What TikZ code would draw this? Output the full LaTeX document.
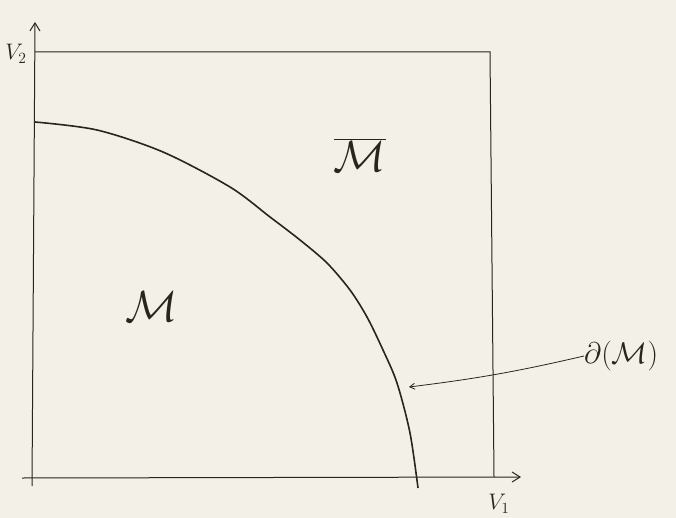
\documentclass[tikz,border=0pt]{standalone}
\usetikzlibrary{arrows.meta}
\definecolor{paper}{RGB}{243,240,232}
\definecolor{ink}{RGB}{40,36,30}
\begin{document}
\begin{tikzpicture}[x=1pt,y=-1pt,
  axis/.style={draw=ink,line width=1pt,-{Straight Barb[length=8pt,width=10pt]}},
  boxline/.style={draw=ink,line width=1pt},
  bound/.style={draw=ink,line width=1.6pt},
  pointer/.style={draw=ink,line width=0.8pt,-{Straight Barb[length=5pt,width=6pt]}},
  lab/.style={text=ink,inner sep=0pt}]
\fill[paper] (0,0) rectangle (676,518);
\useasboundingbox (0,0) rectangle (676,518);
% axes
\coordinate (Xend) at (521,477);
\coordinate (Yend) at (35,22);
\draw[axis] (22,478) -- (Xend);
\draw[axis] (32,486) -- (Yend);
% box
\coordinate (TL) at (35,52);
\coordinate (TR) at (490,52);
\coordinate (BR) at (494,477);
\draw[boxline] (TL) -- (TR) -- (BR);
% boundary curve
\draw[bound] plot[smooth,tension=0.5] coordinates {(35,122) (97,130) (163,152) (230,187) (270,217) (300,240) (327,263) (350,290) (367,317) (383,350) (397,383) (410,433) (418,488)};
% labels
\node[lab] (v2) at (16,54) {\scalebox{1.3}{\LARGE $V_2$}};
\node[lab] (v1) at (499,504) {\scalebox{1.3}{\LARGE $V_1$}};
\node[lab] (M) at (152,307) {\scalebox{1.75}{\Huge $\mathcal{M}$}};
\node[lab] (Mbar) at (360,155) {\scalebox{1.75}{\Huge $\overline{\mathcal{M}}$}};
\node[lab,anchor=west] (dM) at (584,356) {\scalebox{1.2}{\Huge $\partial(\mathcal{M})$}};
\coordinate (tip) at (409,387);
\draw[pointer] (dM.west) to[bend left=3] (tip);
\end{tikzpicture}
\end{document}
